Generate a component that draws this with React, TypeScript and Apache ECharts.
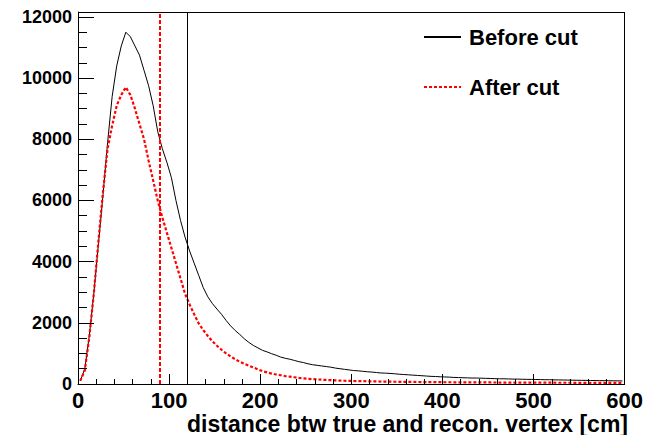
import { useEffect, useRef } from 'react';
import * as echarts from 'echarts';

// Histogram bin width in cm (values below are bin contents, bin centres at 2.5, 7.5, ...)
const binWidth = 5;

const beforeCut = [
  100, 500, 1600, 3000, 4600, 6200, 7900, 9400, 10400, 11050,
  11500, 11350, 11050, 10750, 10250, 9750, 9100, 8250, 7700, 7250,
  6750, 6000, 5350, 4800, 4350, 3950, 3550, 3150, 2850, 2630,
  2450, 2280, 2080, 1900, 1750, 1620, 1480, 1360, 1260, 1180,
  1100, 1050, 990, 940, 880, 840, 810, 770, 730, 700,
  660, 630, 610, 590, 570, 550, 520, 500, 480, 460,
  440, 430, 415, 400, 390, 375, 360, 355, 345, 335,
  320, 310, 300, 290, 280, 270, 260, 250, 245, 235,
  230, 225, 215, 210, 205, 200, 195, 195, 190, 185,
  180, 175, 170, 170, 165, 160, 160, 155, 152, 150,
  148, 145, 140, 140, 135, 133, 130, 128, 125, 122,
  120, 118, 115, 113, 110, 110, 107, 105, 103, 100,
];

const afterCut = [
  100, 450, 1550, 3000, 4700, 6300, 7700, 8450, 9100, 9450,
  9700, 9450, 9000, 8500, 8000, 7300, 6650, 6000, 5450, 4950,
  4450, 3950, 3450, 2950, 2600, 2280, 1980, 1760, 1570, 1400,
  1250, 1120, 1000, 900, 810, 730, 660, 600, 540, 480,
  420, 380, 340, 310, 285, 260, 240, 220, 200, 185,
  170, 160, 150, 140, 132, 125, 118, 112, 107, 102,
  98, 95, 92, 89, 86, 83, 80, 78, 76, 74,
  72, 70, 68, 67, 65, 64, 63, 62, 60, 59,
  58, 57, 56, 55, 54, 53, 52, 52, 51, 50,
  50, 49, 48, 48, 47, 46, 46, 45, 45, 44,
  44, 43, 43, 42, 42, 41, 41, 41, 40, 40,
  40, 39, 39, 38, 38, 38, 37, 37, 36, 36,
];

const seriesNames = ['Before cut', 'After cut'];
const cutLines = { before: 120, after: 90 };
const xMin = 0;
const xMax = 600;
const xInterval = 100;
const yMin = 0;
const yMax = 12160;
const yMajorInterval = 2000;
const yLabelTop = 12000;
const xTitle = 'distance btw true and recon. vertex [cm]';

const FONT = 'Liberation Sans, Helvetica, Arial, sans-serif';

function toPairs(values: number[]) {
  return values.map((v, i) => [binWidth * i + binWidth / 2, v]);
}

export default function App() {
  const ref = useRef<HTMLDivElement>(null);

  useEffect(() => {
    if (!ref.current) return;
    const chart = echarts.init(ref.current, null, { renderer: 'svg' });
    const option: any = {
      animation: false,
      title: {
        text: xTitle,
        right: 18,
        top: 412,
        padding: 0,
        textStyle: {
          color: '#000',
          fontFamily: FONT,
          fontWeight: 'bold',
          fontSize: 23,
          lineHeight: 23,
        },
      },
      legend: {
        orient: 'vertical',
        left: 418,
        top: 21,
        itemWidth: 37,
        itemHeight: 14,
        itemGap: 28,
        data: seriesNames,
        itemStyle: { opacity: 0 },
        textStyle: {
          color: '#000',
          fontFamily: FONT,
          fontWeight: 'bold',
          fontSize: 22,
          lineHeight: 22,
          padding: [0, 0, 0, 3],
        },
      },
      grid: { left: 78, right: 18, top: 12, bottom: 51 },
      xAxis: {
        type: 'value',
        z: 10,
        min: xMin,
        max: xMax,
        interval: xInterval,
        axisLine: { show: true, onZero: false, lineStyle: { color: '#000', width: 1 } },
        axisTick: { show: true, inside: true, length: 10, lineStyle: { color: '#000', width: 1 } },
        minorTick: { show: true, splitNumber: 5, length: 5, lineStyle: { color: '#000', width: 1 } },
        splitLine: { show: false },
        axisLabel: {
          color: '#000',
          fontFamily: FONT,
          fontWeight: 'bold',
          fontSize: 22,
          lineHeight: 22,
          margin: 5,
        },
      },
      yAxis: {
        type: 'value',
        z: 10,
        min: yMin,
        max: yMax,
        interval: yMajorInterval,
        axisLine: { show: true, onZero: false, lineStyle: { color: '#000', width: 1 } },
        axisTick: { show: true, inside: true, length: 16, lineStyle: { color: '#000', width: 1 } },
        minorTick: { show: true, splitNumber: 4, length: 9, lineStyle: { color: '#000', width: 1 } },
        splitLine: { show: false },
        axisLabel: {
          color: '#000',
          fontFamily: FONT,
          fontWeight: 'bold',
          fontSize: 18,
          margin: 6,
          showMaxLabel: false,
          formatter: (v: number) => (v % yMajorInterval === 0 && v <= yLabelTop ? String(v) : ''),
        },
      },
      series: [
        {
          name: seriesNames[0],
          type: 'line',
          data: toPairs(beforeCut),
          symbol: 'none',
          clip: false,
          lineStyle: { color: '#000', width: 1 },
          itemStyle: { color: '#000' },
          markLine: {
            silent: true,
            symbol: 'none',
            label: { show: false },
            lineStyle: { color: '#000', width: 1, type: 'solid' },
            data: [{ xAxis: cutLines.before }, { xAxis: xMax }, { yAxis: yMax }],
          },
        },
        {
          name: seriesNames[1],
          type: 'line',
          data: toPairs(afterCut),
          symbol: 'none',
          lineStyle: { color: '#ff0000', width: 2.2, type: [3, 2] },
          itemStyle: { color: '#ff0000' },
          markLine: {
            silent: true,
            symbol: 'none',
            label: { show: false },
            lineStyle: { color: '#ff0000', width: 2, type: [4, 2] },
            data: [{ xAxis: cutLines.after }],
          },
        },
      ],
    };
    chart.setOption(option);
    return () => {
      chart.dispose();
    };
  }, []);

  return (
    <div
      ref={ref}
      style={{ position: 'fixed', left: 0, top: 0, width: 646, height: 435, background: '#fff' }}
    />
  );
}
